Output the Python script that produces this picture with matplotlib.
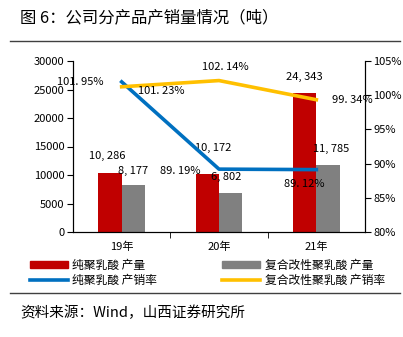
import matplotlib
matplotlib.use("Agg")
import matplotlib.pyplot as plt
from matplotlib.patches import Patch
from matplotlib.lines import Line2D
import numpy as np

plt.rcParams['font.family'] = ['Noto Sans CJK SC', 'DejaVu Sans']

categories = ['19年', '20年', '21年']
pure_output = [10286, 10172, 24343]
mod_output = [8177, 6802, 11785]
pure_rate = [101.95, 89.19, 89.12]
mod_rate = [101.23, 102.14, 99.34]
pure_labels = ['10, 286', '10, 172', '24, 343']
mod_labels = ['8, 177', '6, 802', '11, 785']
pure_rate_labels = ['101. 95%', '89. 19%', '89. 12%']
mod_rate_labels = ['101. 23%', '102. 14%', '99. 34%']

W, H = 403, 337
fig = plt.figure(figsize=(W/100, H/100), dpi=100)

def fx(px): return px / W
def fy(py): return 1 - py / H

ax = fig.add_axes([fx(73), fy(232), fx(365) - fx(73), fy(61) - fy(232)])
ax2 = ax.twinx()

x = np.arange(len(categories))
bw = 0.24
red = '#C00000'
gray = '#808080'
blue = '#0070C0'
yellow = '#FFC000'

ax.bar(x - bw/2, pure_output, bw, color=red, zorder=2)
ax.bar(x + bw/2, mod_output, bw, color=gray, zorder=2)
ax.set_xlim(-0.5, 2.5)
ax.set_ylim(0, 30000)
ax.set_yticks(np.arange(0, 30001, 5000))
ax.set_xticks(x)
ax.set_xticklabels(categories, fontsize=8)
ax.set_xticks([0.5, 1.5], minor=True)
ax.tick_params(axis='x', which='major', length=0, pad=7)
ax.tick_params(axis='x', which='minor', length=4, direction='out')
ax.tick_params(axis='y', labelsize=8, length=4, pad=2)
ax.spines['top'].set_visible(False)

ax2.plot(x, pure_rate, color=blue, lw=2.6, zorder=3)
ax2.plot(x, mod_rate, color=yellow, lw=2.6, zorder=3)
ax2.set_ylim(80, 105)
ax2.set_yticks(np.arange(80, 105.1, 5))
ax2.set_yticklabels([f'{v:.0f}%' for v in np.arange(80, 105.1, 5)])
ax2.tick_params(axis='y', labelsize=8, length=4, pad=2)
ax2.spines['top'].set_visible(False)

fs = 8
# bar value labels
pure_off = [(-2, 9), (4, 15), (0, 8)]
mod_off = [(0, 7), (-3, 8), (2, 8)]
for i in range(3):
    ax.annotate(pure_labels[i], (x[i] - bw/2, pure_output[i]), xytext=pure_off[i],
                textcoords='offset points', ha='center', va='bottom', fontsize=fs)
    ax.annotate(mod_labels[i], (x[i] + bw/2, mod_output[i]), xytext=mod_off[i],
                textcoords='offset points', ha='center', va='bottom', fontsize=fs)

# rate labels
ax2.annotate(pure_rate_labels[0], (x[0], pure_rate[0]), xytext=(-13, 0),
             textcoords='offset points', ha='right', va='center', fontsize=fs)
ax2.annotate(pure_rate_labels[1], (x[1], pure_rate[1]), xytext=(-13, -1),
             textcoords='offset points', ha='right', va='center', fontsize=fs)
ax2.annotate(pure_rate_labels[2], (x[2], pure_rate[2]), xytext=(-9, -10),
             textcoords='offset points', ha='center', va='center', fontsize=fs)
ax2.annotate(mod_rate_labels[0], (x[0], mod_rate[0]), xytext=(12, -3),
             textcoords='offset points', ha='left', va='center', fontsize=fs)
ax2.annotate(mod_rate_labels[1], (x[1], mod_rate[1]), xytext=(-12, 10),
             textcoords='offset points', ha='left', va='center', fontsize=fs)
ax2.annotate(mod_rate_labels[2], (x[2], mod_rate[2]), xytext=(11, 0),
             textcoords='offset points', ha='left', va='center', fontsize=fs)

# title and decorations
fig.text(fx(20), fy(18), '图 6：公司分产品产销量情况（吨）', fontsize=11.8, ha='left', va='center')
fig.add_artist(Line2D([fx(10), fx(400)], [fy(41), fy(41)], color='#404040', lw=1))
fig.add_artist(Line2D([fx(10), fx(400)], [fy(293), fy(293)], color='#404040', lw=1))
fig.text(fx(20), fy(313), '资料来源：Wind，山西证券研究所', fontsize=10.5, ha='left', va='center')

handles = [Patch(color=red), Line2D([], [], color=blue, lw=2.6),
           Patch(color=gray), Line2D([], [], color=yellow, lw=2.6)]
labels = ['纯聚乳酸 产量', '纯聚乳酸 产销率', '复合改性聚乳酸 产量', '复合改性聚乳酸 产销率']
fig.legend(handles, labels, ncol=2, loc='center left', bbox_to_anchor=(fx(24), fy(273)),
           frameon=False, fontsize=8.5, handlelength=3.2, handleheight=0.6,
           columnspacing=5.5, labelspacing=0.2, handletextpad=0.4, borderpad=0)

fig.savefig('out.png', dpi=100)
